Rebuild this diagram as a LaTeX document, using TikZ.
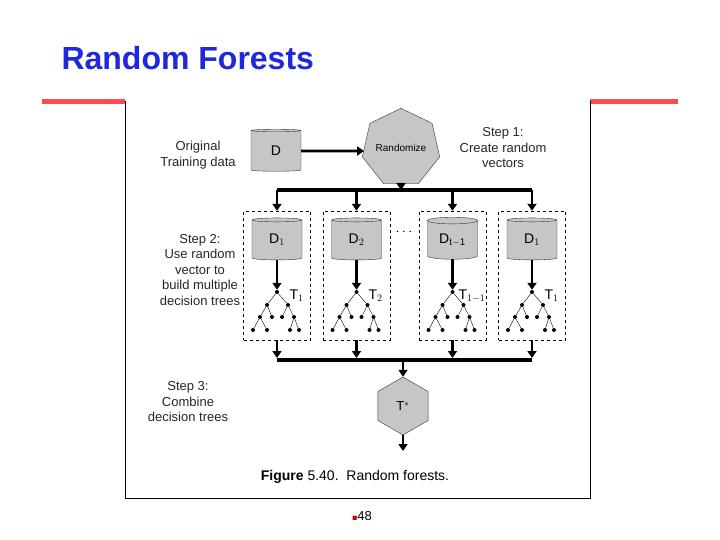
\documentclass[tikz,border=0pt]{standalone}
\usepackage{amssymb}
\usepackage{fontspec}
\setmainfont{Liberation Sans}
\usetikzlibrary{arrows.meta,shapes.geometric,calc}
\tikzstyle{data}=[cylinder,shape border rotate=90,aspect=0.25,draw=black!80,fill=gray!45,minimum width=50pt,minimum height=42pt,inner sep=0pt,font=\fontsize{14}{16}\selectfont]
\tikzstyle{bag}=[draw,dashed,thin,minimum width=67pt,minimum height=129pt,inner sep=0pt]
\tikzstyle{flow}=[line width=2.6pt,-{Triangle[length=7pt,width=9pt]}]
\tikzstyle{bus}=[line width=3.5pt]
\tikzstyle{leaf}=[circle,fill=black,inner sep=0pt,minimum size=4pt]
\tikzstyle{steptext}=[align=center,font=\fontsize{13}{15.5}\selectfont,text=black!85]
\newcommand{\dtree}[2]{%
  \begin{scope}[shift={(#1)}]
    \node[leaf] (#2r) at (0,0) {};
    \node[leaf] (#2a) at (-10,13) {};
    \node[leaf] (#2b) at (11,13) {};
    \node[leaf] (#2c) at (-17,25) {};
    \node[leaf] (#2d) at (-5,25) {};
    \node[leaf] (#2e) at (5,25) {};
    \node[leaf] (#2f) at (17,25) {};
    \node[leaf] (#2g) at (-24,38) {};
    \node[leaf] (#2h) at (-10,38) {};
    \node[leaf] (#2i) at (13,38) {};
    \node[leaf] (#2j) at (22,38) {};
    \draw (#2r) -- (#2a) (#2r) -- (#2b) (#2a) -- (#2c) (#2a) -- (#2d)
          (#2b) -- (#2e) (#2b) -- (#2f) (#2c) -- (#2g) (#2c) -- (#2h)
          (#2f) -- (#2i) (#2f) -- (#2j);
  \end{scope}}

\begin{document}
\begin{tikzpicture}[x=1pt,y=-1pt]
    \useasboundingbox (0,0) rectangle (720,540);
    \node[anchor=west,font=\bfseries\fontsize{32}{36}\selectfont,text={rgb,255:red,30;green,40;blue,220}] (title) at (58,58) {Random Forests};
    \fill[red!70] (42,99) rectangle (125,104);
    \fill[red!70] (590,99) rectangle (678,104);
    \draw[thin] (125,101) -- (125,498) -- (590,498) -- (590,101);

    \node[data] (D) at (276,151) {D};
    \node[regular polygon,regular polygon sides=7,draw=black!80,fill=gray!45,minimum size=64pt,inner sep=0pt,font=\fontsize{10}{12}\selectfont] (rand) at (401,148) {Randomize};
    \node[steptext] (orig) at (198,155) {Original\\Training data};
    \node[steptext] (s1) at (503,148) {Step 1:\\Create random\\vectors};
    \draw[flow] (D) -- (rand.west |- D);

    \node[bag] (b1) at (277,275.5) {};
    \node[bag] (b2) at (356.5,275.5) {};
    \node[bag] (b3) at (452.5,275.5) {};
    \node[bag] (b4) at (532,275.5) {};
    \node[data] (d1) at (277,240) {D$_1$};
    \node[data] (d2) at (356.5,240) {D$_2$};
    \node[data] (d3) at (452.5,240) {D$_{\mathrm{t-1}}$};
    \node[data] (d4) at (532,240) {D$_1$};
    \node[font=\Large] (dots) at (404,232) {$\cdots$};
    \node[steptext] (s2) at (200,270) {Step 2:\\Use random\\vector to\\build multiple\\decision trees};

    \coordinate (top) at (401,190);
    \draw[flow] (rand) -- (top);
    \draw[bus] (b1.north |- top) -- (b4.north |- top);
    \foreach \b in {b1,b2,b3,b4}
        \draw[flow] (\b.north |- top) -- (\b.north);

    \dtree{277,292}{ta}
    \dtree{356.5,292}{tb}
    \dtree{452.5,292}{tc}
    \dtree{532,292}{td}
    \foreach \d/\t in {d1/ta,d2/tb,d3/tc,d4/td}
        \draw[flow] (\d) -- (\t r);
    \node[anchor=west,font=\fontsize{14}{16}\selectfont] at (286,296) {T$_1$};
    \node[anchor=west,font=\fontsize{14}{16}\selectfont] at (365,296) {T$_2$};
    \node[anchor=west,font=\fontsize{14}{16}\selectfont] at (455,296) {T$_{1-1}$};
    \node[anchor=west,font=\fontsize{14}{16}\selectfont] at (541,296) {T$_1$};

    \node[regular polygon,regular polygon sides=6,shape border rotate=30,draw=black!80,fill=gray!45,minimum size=58pt,inner sep=0pt,font=\fontsize{13}{15}\selectfont] (tstar) at (403,406) {T$^*$};
    \coordinate (bot) at (403,360);
    \foreach \b in {b1,b2,b3,b4}
        \draw[flow] (\b.south) -- ($(\b.south |- bot)+(0,-2)$);
    \draw[bus] (b1.south |- bot) -- (b4.south |- bot);
    \draw[flow] (bot) -- (tstar);
    \coordinate (out) at (403,451);
    \draw[flow] (tstar) -- (out);
    \node[steptext] (s3) at (188,402) {Step 3:\\Combine\\decision trees};

    \node[font=\fontsize{14}{16}\selectfont] (cap) at (355,477) {\textbf{Figure} 5.40.\ \ Random forests.};
    \node[font=\fontsize{13}{15}\selectfont] (page) at (362,516) {\textcolor{red!80!black}{\tiny$\blacksquare$}48};
\end{tikzpicture}
\end{document}
